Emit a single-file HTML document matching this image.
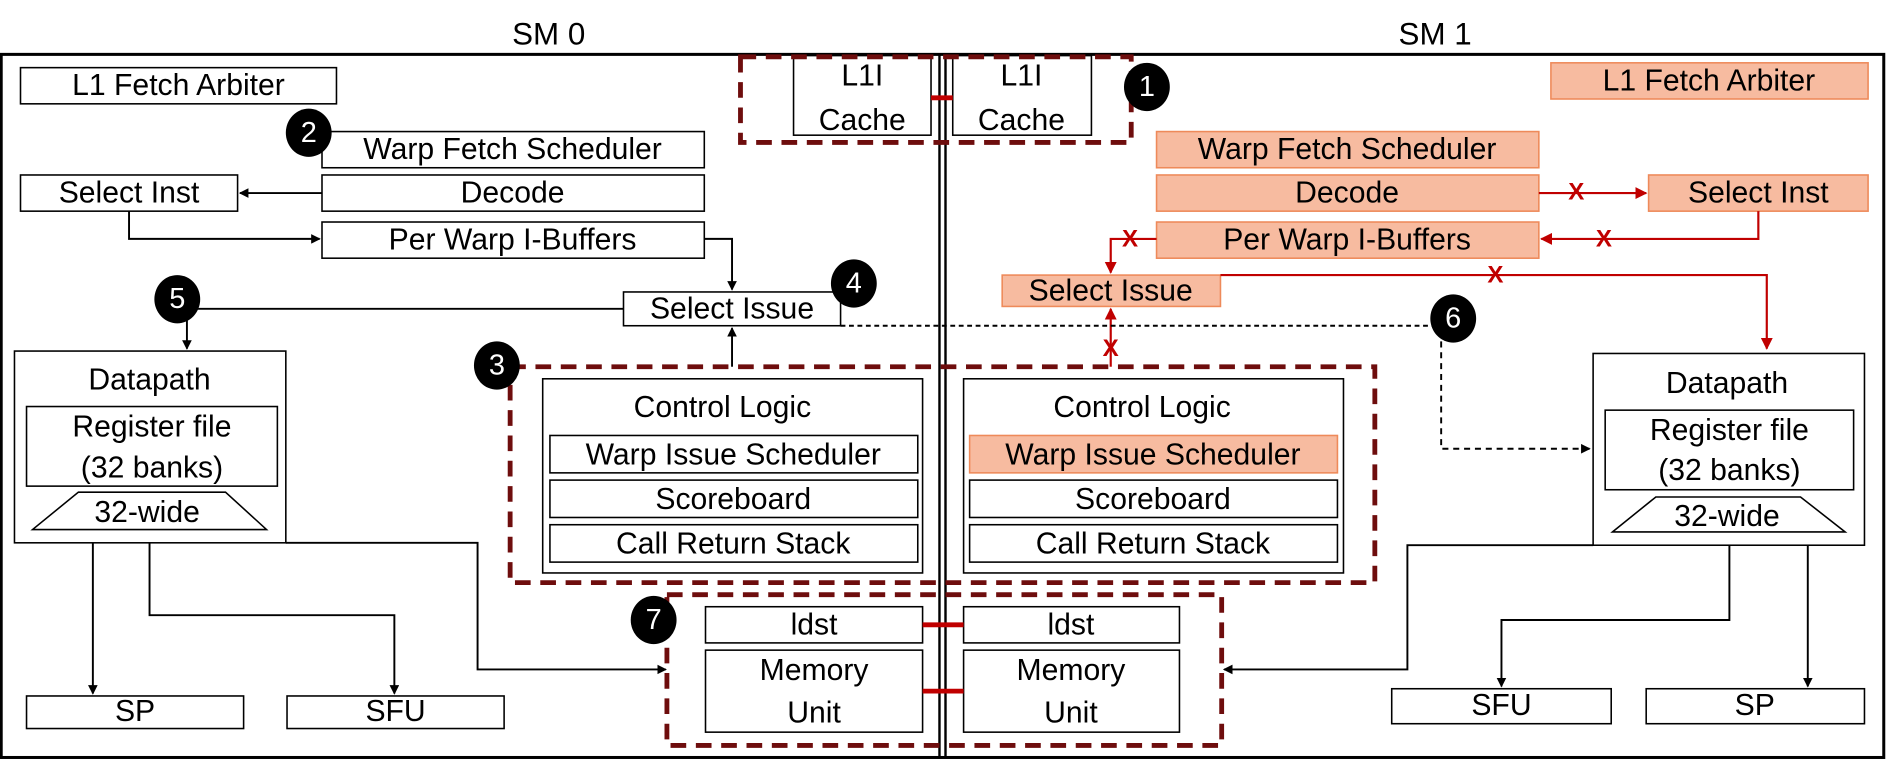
<!DOCTYPE html>
<html><head><meta charset="utf-8"><style>
html,body{margin:0;padding:0;background:#fff;}
svg{display:block;}
text{font-family:"Liberation Sans",sans-serif;font-size:25px;fill:#000;text-anchor:middle;dominant-baseline:central;}
.b{fill:#fff;stroke:#000;stroke-width:1.3;}
.s{fill:#f7bba0;stroke:#ee8a5a;stroke-width:1.3;}
.dr{fill:none;stroke:#6e0d0d;stroke-width:4;stroke-dasharray:13 8;}
.l{fill:none;stroke:#000;stroke-width:1.6;}
.r{fill:none;stroke:#c00000;stroke-width:1.8;}
.x{fill:#c00000;font-weight:bold;font-size:20px;}
.bd text{fill:#fff;font-size:24px;}
</style></head><body>
<svg width="1891" height="760" viewBox="0 0 1568 630" xmlns="http://www.w3.org/2000/svg">
<defs>
<marker id="a" markerWidth="8" markerHeight="8" refX="7" refY="4" orient="auto" markerUnits="userSpaceOnUse"><path d="M0,0L8,4L0,8z" fill="#000"/></marker>
<marker id="ar" markerWidth="10" markerHeight="10" refX="9" refY="5" orient="auto" markerUnits="userSpaceOnUse"><path d="M0,0L10,5L0,10z" fill="#c00000"/></marker>
</defs>
<text x="455" y="28" style="font-size:26px">SM 0</text>
<text x="1190" y="28" style="font-size:26px">SM 1</text>
<rect x="1" y="45" width="1561" height="583" fill="none" stroke="#000" stroke-width="2.5"/>
<line x1="779" y1="45" x2="779" y2="628" stroke="#000" stroke-width="2"/>
<line x1="784" y1="45" x2="784" y2="628" stroke="#000" stroke-width="2"/>

<rect class="b" x="658" y="46" width="114" height="66"/>
<rect class="b" x="790" y="46" width="115" height="66"/>
<text x="715" y="63">L1I</text><text x="715" y="100">Cache</text>
<text x="847" y="63">L1I</text><text x="847" y="100">Cache</text>
<line x1="772" y1="81" x2="790" y2="81" stroke="#c00000" stroke-width="4"/>
<rect class="dr" x="614" y="47" width="324" height="71"/>

<rect class="b" x="17" y="56" width="262" height="30"/><text x="148" y="71">L1 Fetch Arbiter</text>
<rect class="b" x="267" y="109" width="317" height="30"/><text x="425" y="124">Warp Fetch Scheduler</text>
<rect class="b" x="17" y="145" width="180" height="30"/><text x="107" y="160">Select Inst</text>
<rect class="b" x="267" y="145" width="317" height="30"/><text x="425" y="160">Decode</text>
<rect class="b" x="267" y="184" width="317" height="30"/><text x="425" y="199">Per Warp I-Buffers</text>
<line class="l" x1="267" y1="160" x2="199" y2="160" marker-end="url(#a)"/>
<polyline class="l" points="107,175 107,198 265,198" marker-end="url(#a)"/>
<polyline class="l" points="584,198 607,198 607,240" marker-end="url(#a)"/>
<rect class="b" x="517" y="242" width="180" height="28"/><text x="607" y="256">Select Issue</text>
<line class="l" x1="160" y1="256" x2="517" y2="256"/>
<line class="l" x1="155" y1="256" x2="155" y2="289" marker-end="url(#a)"/>
<line class="l" x1="607" y1="304" x2="607" y2="272" marker-end="url(#a)"/>
<rect class="b" x="12" y="291" width="225" height="159"/><text x="124" y="315">Datapath</text>
<rect class="b" x="22" y="337" width="208" height="66"/><text x="126" y="354">Register file</text><text x="126" y="388">(32 banks)</text>
<polygon class="b" points="65,408 187,408 221,439 27,439"/><text x="122" y="425">32-wide</text>
<line class="l" x1="77" y1="450" x2="77" y2="575" marker-end="url(#a)"/>
<polyline class="l" points="124,450 124,510 327,510 327,575" marker-end="url(#a)"/>
<polyline class="l" points="237,450 396,450 396,555 552,555" marker-end="url(#a)"/>
<rect class="b" x="22" y="577" width="180" height="27"/><text x="112" y="590">SP</text>
<rect class="b" x="238" y="577" width="180" height="27"/><text x="328" y="590">SFU</text>

<rect class="b" x="450" y="314" width="315" height="161"/><text x="599" y="338">Control Logic</text>
<rect class="b" x="456" y="361" width="305" height="31"/><text x="608" y="377">Warp Issue Scheduler</text>
<rect class="b" x="456" y="398" width="305" height="31"/><text x="608" y="414">Scoreboard</text>
<rect class="b" x="456" y="435" width="305" height="31"/><text x="608" y="451">Call Return Stack</text>
<rect class="b" x="799" y="314" width="315" height="161"/><text x="947" y="338">Control Logic</text>
<rect class="s" x="804" y="361" width="305" height="31"/><text x="956" y="377">Warp Issue Scheduler</text>
<rect class="b" x="804" y="398" width="305" height="31"/><text x="956" y="414">Scoreboard</text>
<rect class="b" x="804" y="435" width="305" height="31"/><text x="956" y="451">Call Return Stack</text>
<rect class="dr" x="423" y="304" width="717" height="179"/>

<rect class="b" x="585" y="503" width="180" height="30"/><text x="675" y="518">ldst</text>
<rect class="b" x="799" y="503" width="179" height="30"/><text x="888" y="518">ldst</text>
<rect class="b" x="585" y="539" width="180" height="68"/><text x="675" y="556">Memory</text><text x="675" y="591">Unit</text>
<rect class="b" x="799" y="539" width="179" height="68"/><text x="888" y="556">Memory</text><text x="888" y="591">Unit</text>
<line x1="765" y1="518" x2="799" y2="518" stroke="#c00000" stroke-width="4"/>
<line x1="765" y1="573" x2="799" y2="573" stroke="#c00000" stroke-width="4"/>
<rect class="dr" x="553" y="493" width="460" height="125"/>

<rect class="s" x="1286" y="52" width="263" height="30"/><text x="1417" y="67">L1 Fetch Arbiter</text>
<rect class="s" x="959" y="109" width="317" height="30"/><text x="1117" y="124">Warp Fetch Scheduler</text>
<rect class="s" x="959" y="145" width="317" height="30"/><text x="1117" y="160">Decode</text>
<rect class="s" x="1367" y="145" width="182" height="30"/><text x="1458" y="160">Select Inst</text>
<rect class="s" x="959" y="184" width="317" height="30"/><text x="1117" y="199">Per Warp I-Buffers</text>
<rect class="s" x="831" y="228" width="181" height="26"/><text x="921" y="241">Select Issue</text>
<line class="r" x1="1276" y1="160" x2="1365" y2="160" marker-end="url(#ar)"/>
<text class="x" x="1307" y="159">X</text>
<polyline class="r" points="1458,175 1458,198 1278,198" marker-end="url(#ar)"/>
<text class="x" x="1330" y="198">X</text>
<polyline class="r" points="959,198 921,198 921,226" marker-end="url(#ar)"/>
<text class="x" x="937" y="198">X</text>
<polyline class="r" points="1012,228 1465,228 1465,289" marker-end="url(#ar)"/>
<text class="x" x="1240" y="228">X</text>
<line class="r" x1="921" y1="304" x2="921" y2="256" marker-end="url(#ar)"/>
<text class="x" x="921" y="289">X</text>
<line class="l" x1="697" y1="270" x2="1190" y2="270" stroke-dasharray="4 3"/>
<polyline class="l" points="1195,283 1195,372 1318,372" stroke-dasharray="5 4" marker-end="url(#a)"/>
<rect class="b" x="1321" y="293" width="225" height="159"/><text x="1432" y="318">Datapath</text>
<rect class="b" x="1331" y="340" width="206" height="66"/><text x="1434" y="357">Register file</text><text x="1434" y="390">(32 banks)</text>
<polygon class="b" points="1373,412 1493,412 1530,441 1337,441"/><text x="1432" y="428">32-wide</text>
<polyline class="l" points="1321,452 1167,452 1167,555 1015,555" marker-end="url(#a)"/>
<polyline class="l" points="1434,452 1434,514 1245,514 1245,569" marker-end="url(#a)"/>
<line class="l" x1="1499" y1="452" x2="1499" y2="569" marker-end="url(#a)"/>
<rect class="b" x="1154" y="571" width="182" height="29"/><text x="1245" y="585">SFU</text>
<rect class="b" x="1365" y="571" width="181" height="29"/><text x="1455" y="585">SP</text>

<g class="bd">
<ellipse cx="951" cy="72" rx="19" ry="20"/><text x="951" y="72">1</text>
<ellipse cx="256" cy="110" rx="19" ry="20"/><text x="256" y="110">2</text>
<ellipse cx="412" cy="303" rx="19" ry="20"/><text x="412" y="303">3</text>
<ellipse cx="708" cy="235" rx="19" ry="20"/><text x="708" y="235">4</text>
<ellipse cx="147" cy="248" rx="19" ry="20"/><text x="147" y="248">5</text>
<ellipse cx="1205" cy="264" rx="19" ry="20"/><text x="1205" y="264">6</text>
<ellipse cx="542" cy="514" rx="19" ry="20"/><text x="542" y="514">7</text>
</g>
</svg>
</body></html>
